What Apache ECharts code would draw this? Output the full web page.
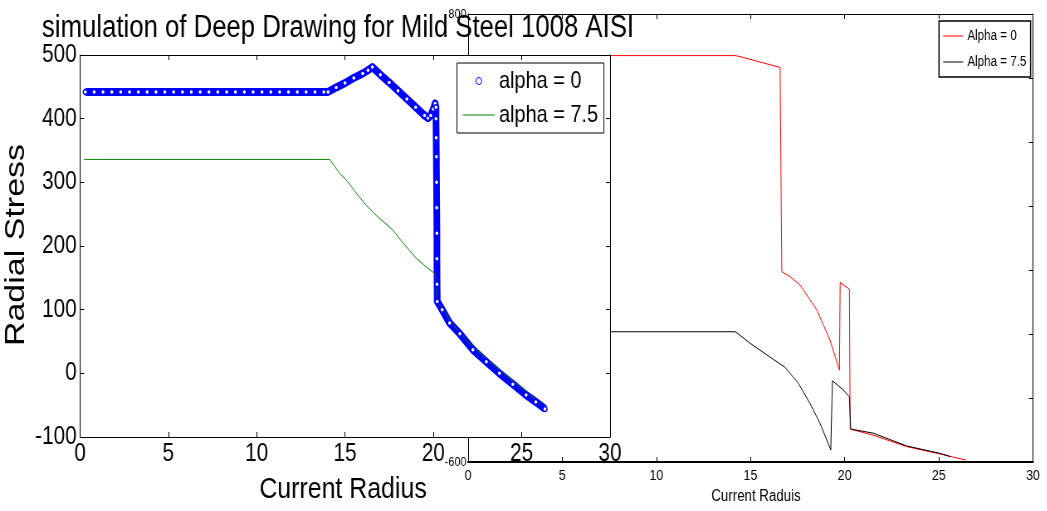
<!DOCTYPE html>
<html>
<head>
<meta charset="utf-8">
<title>simulation of Deep Drawing for Mild Steel 1008 AISI</title>
<script src="https://cdn.jsdelivr.net/npm/echarts@6/dist/echarts.min.js"></script>
<style>
html, body { margin: 0; padding: 0; background: #fff; overflow: hidden; }
#wrap { width: 1047px; height: 511px; overflow: hidden; }
/* the source picture is squeezed sideways, so the chart is drawn wider and squeezed back */
#chart { width: 1262px; height: 511px; transform: scaleX(0.83); transform-origin: 0 0; }
</style>
</head>
<body>
<div id="wrap"><div id="chart"></div></div>
<script>
// front figure (radial stress vs current radius)
const leftRadiusA0 = [0.3, 0.8, 1.3, 1.8, 2.3, 2.8, 3.3, 3.8, 4.3, 4.8, 5.3, 5.8, 6.3, 6.8, 7.3, 7.8, 8.3, 8.8, 9.3, 9.8,
  10.3, 10.8, 11.3, 11.8, 12.3, 12.8, 13.3, 13.8, 14.04, 14.5, 15.0, 15.5, 16.0, 16.3, 16.55, 17.0, 17.5, 18.0, 18.5,
  19.0, 19.5, 19.7, 19.85, 20.0, 20.1, 20.15, 20.15, 20.16, 20.17, 20.18, 20.19, 20.2, 20.2, 20.21, 20.22, 20.5, 20.92,
  21.5, 22.24, 23.0, 23.74, 24.5, 25.25, 25.8, 26.32]
const leftStressA0 = [442, 442, 442, 442, 442, 442, 442, 442, 442, 442, 442, 442, 442, 442, 442, 442, 442, 442, 442, 442,
  442, 442, 442, 442, 442, 442, 442, 442, 442, 449, 456, 464, 471, 476, 481, 469, 457, 444, 431,
  418, 405, 401, 405, 415, 424, 418, 400, 370, 340, 300, 260, 220, 180, 140, 113, 100, 79,
  62, 37, 18, 0, -17, -34, -45, -56]
const leftRadiusA75 = [0.23, 14.13, 14.7, 15.07, 15.64, 16.2, 16.77, 17.71, 18.27, 19.03, 19.6, 20.12, 20.18, 20.22,
  20.5, 21.0, 21.86, 23.0, 24.12, 25.25, 26.0, 26.1]
const leftStressA75 = [336, 336, 314, 304, 283, 264, 248, 225, 205, 181, 167, 156, 130, 113,
  103, 80, 52, 22, -3, -29, -47, -49]

// back figure
const rightRadiusA0 = [0, 14.2, 14.62, 16.57, 16.66, 17.1, 17.63, 18.52, 19.22, 19.72, 19.76, 20.25, 20.29, 21.5, 23.3, 25.07, 26.43]
const rightStressA0 = [670, 670, 664, 633, -5, -21, -47, -125, -219, -313, -39, -60, -497, -516, -552, -575, -594]
const rightRadiusA75 = [0, 14.2, 14.98, 16.13, 16.83, 17.54, 18.16, 18.69, 19.26, 19.35, 19.93, 20.25, 20.32, 21.52, 23.3, 25.07, 25.6]
const rightStressA75 = [-193, -193, -229, -276, -304, -354, -417, -479, -562, -346, -375, -396, -497, -510, -550, -573, -583]

const leftXRange = [0, 30, 5]
const leftYRange = [-100, 500, 100]
const rightXRange = [0, 30, 5]
const rightYRange = [-600, 800, 200]

const font = "'Liberation Sans', Arial, sans-serif"
// horizontal squeeze of the whole drawing, positions below are in unsqueezed pixels
const sx = 0.83
const px = v => v / sx

const zip = (xs, ys) => xs.map((x, i) => [x, ys[i]])

const chart = echarts.init(document.getElementById('chart'))

const axisBase = (range, z, opts) => Object.assign({
  type: 'value',
  min: range[0],
  max: range[1],
  interval: range[2],
  z: z,
  splitLine: { show: false },
  axisLine: { show: true, onZero: false, lineStyle: { color: '#000', width: 1 } },
  axisTick: { show: true, inside: true, length: 5, lineStyle: { color: '#000' } }
}, opts)

const option = {
  animation: false,
  backgroundColor: '#fff',
  title: {
    text: 'simulation of Deep Drawing for Mild Steel 1008 AISI',
    left: px(42),
    top: 13,
    padding: 0,
    z: 8,
    textStyle: { fontFamily: font, fontSize: 31, fontWeight: 'normal', color: '#000' }
  },
  grid: [
    { left: px(468), top: 14, width: px(565), height: 448 },
    { left: px(80), top: 55, width: px(530), height: 382 }
  ],
  xAxis: [
    axisBase(rightXRange, 1, { gridIndex: 0, position: 'bottom',
      axisLine: { show: true, onZero: false, lineStyle: { color: '#000', width: 2 } },
      axisLabel: { fontFamily: font, fontSize: 15, color: '#000', margin: 6 } }),
    axisBase(rightXRange, 1, { gridIndex: 0, position: 'top', axisLabel: { show: false } }),
    axisBase(leftXRange, 6, { gridIndex: 1, position: 'bottom',
      axisLabel: { fontFamily: font, fontSize: 25, color: '#000', margin: 5 } }),
    axisBase(leftXRange, 6, { gridIndex: 1, position: 'top', axisLabel: { show: false } })
  ],
  yAxis: [
    axisBase(rightYRange, 1, { gridIndex: 0, position: 'left',
      axisLabel: { fontFamily: font, fontSize: 13, color: '#000', margin: 2 } }),
    axisBase(rightYRange, 1, { gridIndex: 0, position: 'right', axisLabel: { show: false } }),
    axisBase(leftYRange, 6, { gridIndex: 1, position: 'left',
      axisLabel: { fontFamily: font, fontSize: 25, color: '#000', margin: 4 } }),
    axisBase(leftYRange, 6, { gridIndex: 1, position: 'right', axisLabel: { show: false } })
  ],
  legend: [
    {
      data: [
        { name: 'alpha = 0', icon: 'circle', itemStyle: { color: '#fff', borderColor: '#0000ff', borderWidth: 1 } },
        { name: 'alpha = 7.5', icon: 'path://M0,0H38V1.2H0Z' }
      ],
      orient: 'vertical',
      left: px(457),
      top: 63,
      z: 8,
      itemWidth: px(32),
      itemHeight: 7,
      itemGap: 8,
      padding: [5, 7, 5, 7],
      backgroundColor: '#fff',
      borderColor: '#000',
      borderWidth: 1,
      textStyle: { fontFamily: font, fontSize: 24, lineHeight: 26, color: '#000' }
    },
    {
      data: [
        { name: 'Alpha = 0', icon: 'path://M0,0H24V1H0Z' },
        { name: 'Alpha = 7.5', icon: 'path://M0,0H24V1H0Z' }
      ],
      orient: 'vertical',
      left: px(939),
      top: 21,
      z: 3,
      itemWidth: px(20),
      itemHeight: 7,
      itemGap: 10,
      padding: [7, 5, 7, 5],
      backgroundColor: '#fff',
      borderColor: '#000',
      borderWidth: 1.5,
      textStyle: { fontFamily: font, fontSize: 14, lineHeight: 16, color: '#000' }
    }
  ],
  graphic: [
    // opaque plot area of the front figure
    { type: 'rect', z: 5, silent: true, shape: { x: px(80), y: 55, width: px(531), height: 382 }, style: { fill: '#fff' } },
    { type: 'text', z: 8, x: px(16), y: 245, rotation: Math.PI / 2,
      style: { text: 'Radial Stress', font: '34px ' + font, fill: '#000',
        textAlign: 'center', textVerticalAlign: 'middle' } },
    { type: 'text', z: 8, x: px(343), y: 490,
      style: { text: 'Current Radius', font: '30px ' + font, fill: '#000',
        textAlign: 'center', textVerticalAlign: 'middle' } },
    { type: 'text', z: 3, x: px(756), y: 497,
      style: { text: 'Current Raduis', font: '16px ' + font, fill: '#000',
        textAlign: 'center', textVerticalAlign: 'middle' } }
  ],
  series: [
    {
      name: 'Alpha = 0', type: 'line', xAxisIndex: 0, yAxisIndex: 0, z: 2,
      data: zip(rightRadiusA0, rightStressA0), symbol: 'none',
      itemStyle: { color: '#ff0000' }, lineStyle: { color: '#ff0000', width: 1 }
    },
    {
      name: 'Alpha = 7.5', type: 'line', xAxisIndex: 0, yAxisIndex: 0, z: 2,
      data: zip(rightRadiusA75, rightStressA75), symbol: 'none',
      itemStyle: { color: '#000' }, lineStyle: { color: '#000', width: 1 }
    },
    {
      name: 'alpha = 0', type: 'line', xAxisIndex: 2, yAxisIndex: 2, z: 7,
      data: zip(leftRadiusA0, leftStressA0),
      symbol: 'circle', symbolSize: 5, showAllSymbol: true,
      itemStyle: { color: '#fff', borderColor: '#0000ff', borderWidth: 1.5 },
      lineStyle: { color: '#0000ff', width: 8, join: 'round' }
    },
    {
      name: 'alpha = 7.5', type: 'line', xAxisIndex: 2, yAxisIndex: 2, z: 7,
      data: zip(leftRadiusA75, leftStressA75), symbol: 'none',
      itemStyle: { color: '#008000' }, lineStyle: { color: '#008000', width: 1 }
    }
  ]
}

chart.setOption(option)
</script>
</body>
</html>
